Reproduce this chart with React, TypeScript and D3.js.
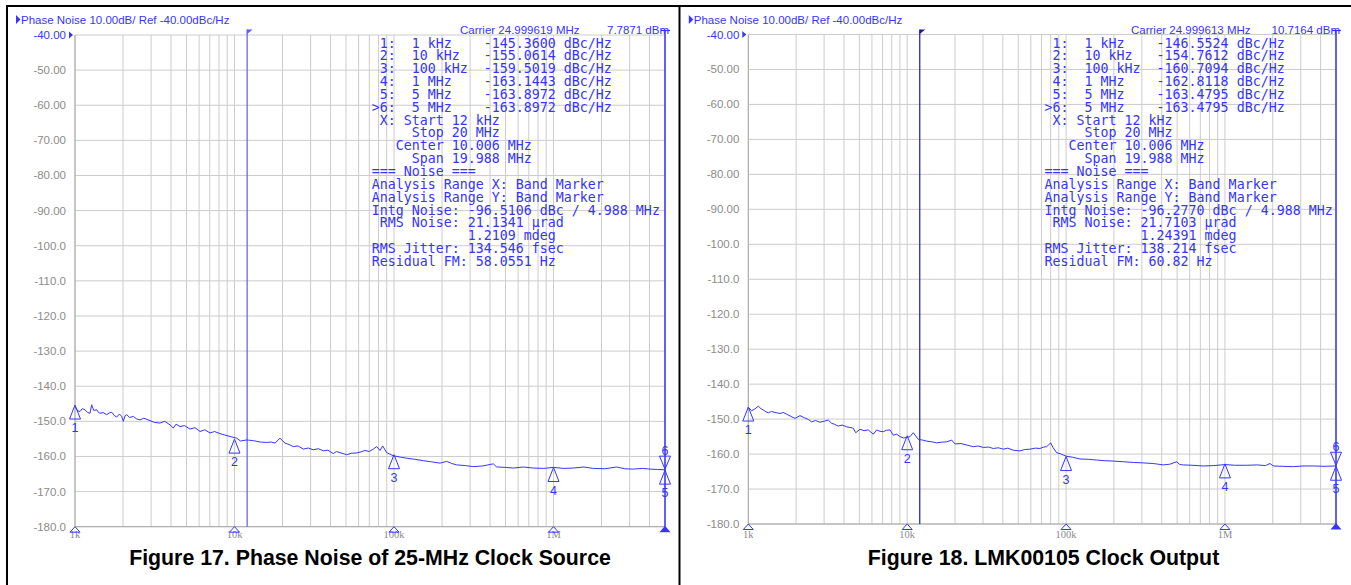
import React from 'react';
import * as d3 from 'd3';

// Figure 17: phase noise of the 25-MHz source, [offset Hz, dBc/Hz]
const srcTrace: [number, number][] = [
  [1000, -145.8], [1040, -147.0], [1075, -147.2], [1110, -146.4], [1155, -146.7], [1200, -147.5],
  [1242, -147.7], [1272, -145.3], [1310, -146.9], [1368, -146.7], [1400, -147.4], [1435, -147.7],
  [1500, -147.5], [1580, -148.1], [1640, -147.6], [1699, -147.4], [1760, -148.3], [1825, -148.8],
  [1900, -147.9], [1960, -148.6], [2009, -150.0], [2060, -148.4], [2110, -148.1], [2200, -148.9],
  [2321, -148.6], [2430, -149.3], [2557, -149.6], [2700, -149.1], [2953, -149.8], [3150, -150.3],
  [3411, -150.5], [3650, -150.0], [3943, -151.0], [4134, -151.9], [4300, -150.8], [4552, -151.5],
  [4850, -151.2], [5260, -152.2], [5650, -151.8], [6081, -152.9], [6500, -152.4], [7021, -153.3],
  [7500, -152.9], [8110, -153.5], [8700, -153.9], [9376, -154.3], [10320, -154.8], [10900, -155.6],
  [11920, -155.3], [13120, -155.5], [14500, -155.9], [15920, -156.0], [17000, -155.9], [17950, -156.2],
  [19280, -154.8], [20740, -156.2], [22000, -156.6], [23380, -157.2], [25000, -157.0], [26990, -157.9],
  [29000, -157.6], [31190, -158.1], [33500, -157.8], [36050, -158.4], [38500, -158.2], [41600, -159.2],
  [43500, -158.6], [45830, -158.9], [50470, -159.5], [54000, -159.1], [58340, -159.0], [62000, -158.7],
  [65780, -158.3], [70000, -158.6], [74130, -157.9], [77910, -157.2], [81700, -158.3], [84930, -157.0],
  [89950, -158.9], [99050, -159.8], [110000, -160.2], [120200, -160.5], [135000, -160.8], [152700, -161.2],
  [170000, -161.5], [194200, -161.9], [213800, -161.4], [230000, -162.0], [247100, -162.4], [280000, -162.6],
  [314100, -162.9], [360000, -162.7], [419500, -162.1], [440500, -163.0], [500000, -163.1], [559800, -163.3],
  [650000, -163.0], [746600, -163.3], [870000, -163.4], [1000000, -163.1], [1150000, -163.4], [1331000, -163.3],
  [1550000, -163.0], [1778000, -163.4], [2100000, -163.5], [2489000, -163.0], [2800000, -163.5], [3163000, -163.6],
  [3600000, -163.4], [4027000, -163.6], [4500000, -163.7], [5000000, -163.8],
];

// Figure 18: LMK00105 output
const outTrace: [number, number][] = [
  [1000, -146.6], [1050, -147.6], [1100, -147.1], [1156, -146.3], [1200, -147.0], [1243, -147.4],
  [1290, -147.9], [1336, -148.2], [1400, -147.8], [1472, -148.1], [1583, -148.4], [1660, -148.1],
  [1745, -148.6], [1850, -149.2], [1968, -149.8], [2115, -149.0], [2250, -149.6], [2386, -150.1],
  [2506, -150.8], [2650, -150.4], [2826, -150.9], [3000, -150.6], [3187, -150.3], [3347, -151.2],
  [3500, -151.5], [3684, -152.0], [3900, -151.7], [4159, -152.2], [4580, -152.6], [4742, -153.9],
  [5046, -152.9], [5350, -153.3], [5690, -153.1], [6120, -154.3], [6427, -153.1], [6750, -153.5],
  [7078, -153.6], [7400, -153.2], [7796, -153.1], [8177, -154.6], [8600, -154.3], [9010, -155.0],
  [9500, -155.4], [10000, -155.2], [10420, -155.0], [10920, -153.9], [11750, -155.8], [12500, -156.0],
  [13270, -156.3], [14300, -156.5], [15340, -156.8], [16500, -156.6], [17740, -156.5], [19060, -156.0],
  [20000, -157.1], [21800, -157.0], [23670, -157.4], [26060, -157.9], [28000, -157.7], [30120, -158.1],
  [32500, -158.0], [34830, -158.4], [37500, -158.2], [40270, -158.6], [43000, -158.3], [46540, -158.9],
  [51270, -159.1], [55000, -158.7], [59290, -158.6], [64000, -158.3], [68540, -158.4], [72000, -158.0],
  [75480, -157.9], [79980, -156.8], [82980, -158.2], [87230, -159.6], [92000, -159.9], [100000, -160.6],
  [110000, -160.9], [122200, -161.4], [138000, -161.5], [155800, -161.7], [175000, -161.9], [198300, -162.0],
  [230000, -162.2], [264900, -162.4], [300000, -162.5], [354000, -162.7], [380000, -162.9], [409300, -163.1],
  [450000, -162.9], [497000, -162.2], [520000, -163.0], [547000, -163.1], [620000, -163.2], [730000, -163.4],
  [850000, -163.3], [1000000, -163.0], [1150000, -163.2], [1371000, -163.2], [1600000, -163.1], [1800000, -163.3],
  [1919000, -162.7], [2015000, -163.4], [2300000, -163.5], [2692000, -163.6], [3100000, -163.4], [3597000, -163.4],
  [4200000, -163.5], [5000000, -163.4],
];

const markerFreqHz = [1e3, 1e4, 1e5, 1e6, 5e6, 5e6];
const markerNames = ['1 kHz', '10 kHz', '100 kHz', '1 MHz', '5 MHz', '5 MHz'];
const srcMarkerDbc = [-145.36, -155.0614, -159.5019, -163.1443, -163.8972, -163.8972];
const outMarkerDbc = [-146.5524, -154.7612, -160.7094, -162.8118, -163.4795, -163.4795];

const yTicksDbc = [-40, -50, -60, -70, -80, -90, -100, -110, -120, -130, -140, -150, -160, -170, -180];
const yTickLabels = ['-40.00', '-50.00', '-60.00', '-70.00', '-80.00', '-90.00', '-100.0', '-110.0',
  '-120.0', '-130.0', '-140.0', '-150.0', '-160.0', '-170.0', '-180.0'];
const xTickHz = [1e3, 1e4, 1e5, 1e6];
const xTickLabels = ['1k', '10k', '100k', '1M'];

const srcSummary = [
  ' X: Start 12 kHz',
  '     Stop 20 MHz',
  '   Center 10.006 MHz',
  '     Span 19.988 MHz',
  '=== Noise ===',
  'Analysis Range X: Band Marker',
  'Analysis Range Y: Band Marker',
  'Intg Noise: -96.5106 dBc / 4.988 MHz',
  ' RMS Noise: 21.1341 \u00b5rad',
  '            1.2109 mdeg',
  'RMS Jitter: 134.546 fsec',
  'Residual FM: 58.0551 Hz',
];
const outSummary = [
  ' X: Start 12 kHz',
  '     Stop 20 MHz',
  '   Center 10.006 MHz',
  '     Span 19.988 MHz',
  '=== Noise ===',
  'Analysis Range X: Band Marker',
  'Analysis Range Y: Band Marker',
  'Intg Noise: -96.2770 dBc / 4.988 MHz',
  ' RMS Noise: 21.7103 \u00b5rad',
  '            1.24391 mdeg',
  'RMS Jitter: 138.214 fsec',
  'Residual FM: 60.82 Hz',
];

const BLUE = '#3535ff';
const GRID = '#cccccc';
const GRAY = '#8c8c8c';
const SANS = '"Liberation Sans", Arial, sans-serif';
const MONO = '"DejaVu Sans Mono", monospace';

type PanelProps = {
  dx: number;
  left: number;
  right: number;
  top: number;
  bottom: number;
  trace: [number, number][];
  markers: number[];
  carrier: string;
  power: string;
  summary: string[];
  bandColor: string;
  caption: string;
  captionX: number;
};

function Panel(p: PanelProps) {
  const x = d3.scaleLog().domain([1e3, 5e6]).range([p.left, p.right]);
  const y = d3.scaleLinear().domain([-40, -180]).range([p.top, p.bottom]);
  const line = d3.line<[number, number]>().x(d => x(d[0])).y(d => y(d[1]));
  const bandX = x(12e3);
  const rows = markerNames.map((n, i) =>
    `${i === 5 ? '>' : ' '}${i + 1}:  ${n.padEnd(9)}${p.markers[i].toFixed(4)} dBc/Hz`).concat(p.summary);
  const tx = p.dx + 371.7;

  return (
    <g>
      {/* grid */}
      {yTicksDbc.map(v => (
        <line key={'h' + v} x1={p.left} x2={p.right} y1={y(v)} y2={y(v)} stroke={GRID} />
      ))}
      {x.ticks().map(f => (
        <line key={'v' + f} x1={x(f)} x2={x(f)} y1={p.top} y2={p.bottom} stroke={GRID} />
      ))}
      <line x1={p.left} x2={p.left} y1={p.top} y2={p.bottom} stroke="#a8a8a8" />
      <line x1={p.left} x2={p.right} y1={p.bottom} y2={p.bottom} stroke="#a8a8a8" />

      {/* y labels */}
      {yTicksDbc.map((v, i) => (
        <text key={'yl' + v} x={p.left - 9} y={y(v) + 4} textAnchor="end" fontFamily={SANS}
          fontSize={11.5} fill={i === 0 ? BLUE : GRAY}>{yTickLabels[i]}</text>
      ))}
      <polygon points={`${p.left - 6},${p.top - 3.5} ${p.left - 2},${p.top} ${p.left - 6},${p.top + 3.5}`} fill={BLUE} />

      {/* header */}
      <polygon points={`${p.dx + 16},${15} ${p.dx + 20.5},${19.5} ${p.dx + 16},${24}`} fill={BLUE} />
      <text x={p.dx + 21} y={24} fontFamily={SANS} fontSize={11.5} fill={BLUE}>
        Phase Noise 10.00dB/ Ref -40.00dBc/Hz
      </text>
      <text x={p.right - 205} y={33.5} fontFamily={SANS} fontSize={11.5} fill={BLUE}>{p.carrier}</text>
      <text x={p.right + 4} y={33.5} textAnchor="end" fontFamily={SANS} fontSize={11.5} fill={BLUE}>{p.power}</text>

      {/* x labels and bottom marks */}
      {xTickHz.map((f, i) => (
        <g key={'xl' + f}>
          <text x={x(f)} y={538} textAnchor="middle" fontFamily='"Liberation Serif", serif'
            fontSize={10.5} fill={GRAY}>{xTickLabels[i]}</text>
          <polygon points={`${x(f)},${p.bottom} ${x(f) - 5},${p.bottom + 5.5} ${x(f) + 5},${p.bottom + 5.5}`}
            fill="none" stroke={BLUE} />
        </g>
      ))}
      <polygon points={`${p.right},${p.bottom - 1} ${p.right - 5.5},${p.bottom + 5.5} ${p.right + 5.5},${p.bottom + 5.5}`} fill={BLUE} />

      {/* band marker lines */}
      <line x1={bandX} x2={bandX} y1={29.5} y2={p.bottom} stroke={p.bandColor} strokeWidth={1.2} />
      <polygon points={`${bandX},${29.5} ${bandX + 5.5},${29.5} ${bandX},${34}`} fill={p.bandColor} />
      <line x1={p.right} x2={p.right} y1={30.5} y2={p.bottom} stroke={BLUE} strokeWidth={1.5} />
      <line x1={p.right - 4} x2={p.right + 5} y1={30.5} y2={30.5} stroke={BLUE} strokeWidth={1.2} />

      {/* trace */}
      <path d={line(p.trace) ?? ''} fill="none" stroke={BLUE} strokeWidth={1} />

      {/* markers */}
      {markerFreqHz.map((f, i) => {
        const mx = x(f);
        const my = y(p.markers[i]);
        if (i === 5) {
          return (
            <g key={'m' + i}>
              <polygon points={`${mx},${my - 1} ${mx - 5.5},${my - 14} ${mx + 5.5},${my - 14}`} fill="none" stroke={BLUE} />
              <text x={mx} y={my - 15} textAnchor="middle" fontFamily={SANS} fontSize={12.5} fill={BLUE}>{i + 1}</text>
            </g>
          );
        }
        return (
          <g key={'m' + i}>
            <polygon points={`${mx},${my} ${mx - 5.5},${my + 14} ${mx + 5.5},${my + 14}`} fill="none" stroke={BLUE} />
            <text x={mx} y={my + 27} textAnchor="middle" fontFamily={SANS} fontSize={12.5} fill={BLUE}>{i + 1}</text>
          </g>
        );
      })}

      {/* readout table */}
      {rows.map((r, i) => (
        <text key={'r' + i} x={tx} y={47.5 + i * 12.85} fontFamily={MONO} fontSize={13.3} fill={BLUE}
          style={{ whiteSpace: 'pre' }}>{r}</text>
      ))}

      <text x={p.captionX} y={565} textAnchor="middle" fontFamily={SANS} fontWeight="bold"
        fontSize={21.3} fill="#000">{p.caption}</text>
    </g>
  );
}

export default function App() {
  return (
    <svg width={1351} height={585} style={{ position: 'absolute', left: 0, top: 0, background: '#fff' }}>
      <rect width={1351} height={585} fill="#fff" />
      <Panel dx={0} left={75} right={665} top={35} bottom={526.7} trace={srcTrace} markers={srcMarkerDbc}
        carrier="Carrier 24.999619 MHz" power="7.7871 dBm" summary={srcSummary} bandColor="#5a5aff"
        caption="Figure 17. Phase Noise of 25-MHz Clock Source" captionX={370} />
      <Panel dx={672.8} left={748.3} right={1336} top={34.5} bottom={524} trace={outTrace} markers={outMarkerDbc}
        carrier="Carrier 24.999613 MHz" power="10.7164 dBm" summary={outSummary} bandColor="#1a1ab0"
        caption="Figure 18. LMK00105 Clock Output" captionX={1043.5} />
      <path d="M7,585 V6 H1351 M679.5,6 V585" fill="none" stroke="#000" strokeWidth={2} />
    </svg>
  );
}
